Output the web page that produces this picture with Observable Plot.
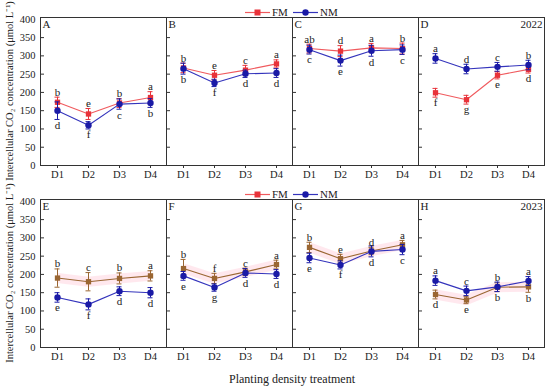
<!DOCTYPE html>
<html><head><meta charset="utf-8">
<script src="https://cdn.jsdelivr.net/npm/d3@7"></script>
<script src="https://cdn.jsdelivr.net/npm/@observablehq/plot@0.6"></script>
<style>
body{margin:0;background:#fff;}
#wrap{position:relative;width:550px;height:389px;overflow:hidden;font-family:"Liberation Serif",serif;}
.chart{position:absolute;left:0;}
#overlay{position:absolute;left:0;top:0;pointer-events:none;}
</style></head><body><div id="wrap"></div>
<script>
const densities = ["D1", "D2", "D3", "D4"];
const yTicks = [0, 50, 100, 150, 200, 250, 300, 350, 400];
const seriesNames = ["FM", "NM"];

// 2022 (panels A-D)
const panels2022 = ["A", "B", "C", "D"];
const fm2022 = [[173, 141, 171, 186], [267, 247, 261, 278], [320, 313, 322, 320], [199, 180, 247, 263]];
const fm2022Err = [[14, 15, 12, 16], [13, 13, 13, 11], [12, 15, 12, 15], [12, 12, 10, 10]];
const fm2022Let = [["b", "e", "b", "a"], ["b", "e", "c", "a"], ["ab", "d", "a", "b"], ["f", "g", "e", "d"]];
const nm2022 = [[150, 110, 168, 171], [265, 226, 251, 253], [317, 287, 314, 317], [293, 264, 270, 275]];
const nm2022Err = [[24, 10, 14, 12], [15, 10, 10, 12], [12, 15, 15, 13], [13, 13, 12, 13]];
const nm2022Let = [["d", "f", "c", "b"], ["b", "f", "d", "d"], ["c", "e", "d", "c"], ["a", "d", "c", "b"]];

// 2023 (panels E-H)
const panels2023 = ["E", "F", "G", "H"];
const fm2023 = [[190, 180, 189, 196], [216, 189, 207, 227], [274, 243, 264, 281], [145, 130, 165, 166]];
const fm2023Err = [[25, 25, 15, 14], [25, 14, 10, 12], [14, 12, 10, 12], [12, 10, 12, 15]];
const fm2023Let = [["b", "c", "b", "a"], ["b", "f", "c", "a"], ["b", "e", "d", "a"], ["d", "e", "b", "b"]];
const nm2023 = [[137, 118, 154, 150], [196, 164, 204, 201], [245, 226, 263, 268], [183, 155, 166, 182]];
const nm2023Err = [[13, 15, 12, 14], [12, 10, 12, 12], [13, 11, 15, 14], [13, 13, 13, 12]];
const nm2023Let = [["e", "f", "d", "d"], ["e", "g", "d", "d"], ["e", "f", "d", "c"], ["a", "c", "b", "a"]];

const colRed = "#e8333a", colRedLine = "#f05a5e";
const colBlue = "#1a1aa6", colBlueLine = "#3434bc";
const colBrown = "#9a6632";

function buildRows(panels, fm, fmErr, fmLet, nm, nmErr, nmLet) {
  const rows = [];
  panels.forEach((p, pi) => {
    const sumFM = d3.sum(fm[pi]), sumNM = d3.sum(nm[pi]);
    densities.forEach((d, di) => {
      rows.push({panel: p, density: d, series: "FM", value: fm[pi][di], err: fmErr[pi][di], letter: fmLet[pi][di], above: sumFM >= sumNM});
      rows.push({panel: p, density: d, series: "NM", value: nm[pi][di], err: nmErr[pi][di], letter: nmLet[pi][di], above: sumNM > sumFM});
    });
  });
  return rows;
}

function seriesMarks(data, stroke, lineStroke, symbol, r) {
  return [
    Plot.ruleX(data, {x: "density", y1: d => d.value - d.err, y2: d => d.value + d.err, fx: "panel", stroke, strokeWidth: 1}),
    Plot.ruleY(data, {x1: "density", x2: "density", y: d => d.value + d.err, fx: "panel", stroke, insetLeft: -2.5, insetRight: -2.5}),
    Plot.ruleY(data, {x1: "density", x2: "density", y: d => d.value - d.err, fx: "panel", stroke, insetLeft: -2.5, insetRight: -2.5}),
    Plot.line(data, {x: "density", y: "value", fx: "panel", stroke: lineStroke, strokeWidth: 1.1}),
    Plot.dot(data, {x: "density", y: "value", fx: "panel", fill: stroke, stroke: "none", symbol, r})
  ];
}

function makeChart(panels, rows, fmColor, fmLine, year, band) {
  const fmData = rows.filter(d => d.series === "FM");
  const nmData = rows.filter(d => d.series === "NM");
  return Plot.plot({
    width: 550, height: 184,
    marginLeft: 40, marginRight: 6, marginTop: 17, marginBottom: 19,
    style: {fontFamily: "Liberation Serif", fontSize: "10px", color: "#222", background: "transparent", overflow: "visible"},
    fx: {domain: panels, padding: 0, axis: null},
    x: {type: "point", domain: densities, padding: 0.47},
    y: {domain: [0, 405]},
    marks: [
      band ? Plot.line(fmData, {x: "density", y: "value", fx: "panel", stroke: "#ffb3c6", strokeWidth: 10, strokeOpacity: 0.3, strokeLinecap: "butt"}) : null,
      Plot.axisY(yTicks, {tickSize: 0, tickPadding: 5, label: null, fontSize: 10.5}),
      Plot.axisY(yTicks.filter(t => t > 0 && t < 400), {facetAnchor: null, tickSize: -4, tickFormat: () => "", label: null, stroke: "#333"}),
      Plot.axisX({tickSize: 3, tickPadding: 2, label: null, fontSize: 10.5, stroke: "#333"}),
      ...seriesMarks(fmData, fmColor, fmLine, "square", 3),
      ...seriesMarks(nmData, colBlue, colBlueLine, "circle", 3.2),
      Plot.text(rows.filter(d => d.above), {x: "density", y: d => d.value + d.err, fx: "panel", text: "letter", lineAnchor: "bottom", dy: -1.5, fontSize: 11, fill: "#222"}),
      Plot.text(rows.filter(d => !d.above), {x: "density", y: d => d.value - d.err, fx: "panel", text: "letter", lineAnchor: "top", dy: 1.5, fontSize: 11, fill: "#222"}),
      Plot.text(panels, {fx: d => d, text: d => d, frameAnchor: "top-left", dx: 2, dy: 3, fontSize: 11, fill: "#222"}),
      Plot.text([year], {fx: () => panels[3], text: d => d, frameAnchor: "top-right", dx: -2, dy: 3, fontSize: 11, fill: "#222"}),
      Plot.frame({stroke: "#333", strokeWidth: 1})
    ]
  });
}

const wrap = document.getElementById("wrap");
const chartTop = makeChart(panels2022, buildRows(panels2022, fm2022, fm2022Err, fm2022Let, nm2022, nm2022Err, nm2022Let), colRed, colRedLine, "2022", false);
chartTop.classList.add("chart"); chartTop.style.top = "0px";
wrap.appendChild(chartTop);
const chartBot = makeChart(panels2023, buildRows(panels2023, fm2023, fm2023Err, fm2023Let, nm2023, nm2023Err, nm2023Let), colBrown, colBrown, "2023", true);
chartBot.classList.add("chart"); chartBot.style.top = "182px";
wrap.appendChild(chartBot);

// overlay: legends and axis titles
const svg = d3.select(wrap).append("svg").attr("id", "overlay").attr("width", 550).attr("height", 389)
  .style("font-family", "Liberation Serif");
function legend(y) {
  const g = svg.append("g");
  g.append("line").attr("x1", 245).attr("x2", 270).attr("y1", y).attr("y2", y).attr("stroke", colRedLine).attr("stroke-width", 1.2);
  g.append("rect").attr("x", 254.5).attr("y", y - 3).attr("width", 6).attr("height", 6).attr("fill", colRed);
  g.append("text").attr("x", 272).attr("y", y).attr("dy", "0.35em").attr("font-size", 11).attr("fill", "#222").text(seriesNames[0]);
  g.append("line").attr("x1", 293).attr("x2", 318).attr("y1", y).attr("y2", y).attr("stroke", colBlueLine).attr("stroke-width", 1.2);
  g.append("circle").attr("cx", 305.5).attr("cy", y).attr("r", 3.2).attr("fill", colBlue);
  g.append("text").attr("x", 320).attr("y", y).attr("dy", "0.35em").attr("font-size", 11).attr("fill", "#222").text(seriesNames[1]);
}
legend(12.5);
legend(194.5);
const yTitle = "Intercellular CO\u2082 concentration (\u03bcmol L\u207b\u00b9)";
[91, 273].forEach(cy => {
  svg.append("text").attr("transform", `translate(9,${cy}) rotate(-90)`).attr("text-anchor", "middle")
    .attr("dy", "0.35em").attr("font-size", 10.5).attr("fill", "#222").text(yTitle);
});
svg.append("text").attr("x", 292).attr("y", 379).attr("text-anchor", "middle").attr("dy", "0.35em")
  .attr("font-size", 12).attr("fill", "#222").text("Planting density treatment");
</script></body></html>
